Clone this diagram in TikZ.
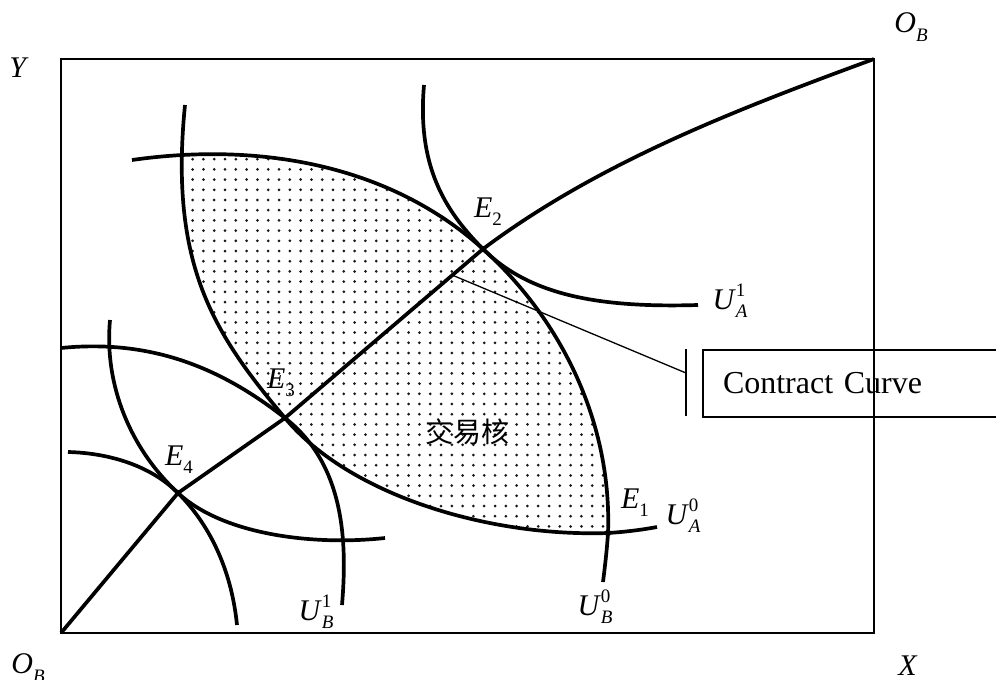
\documentclass[tikz,border=0pt]{standalone}
\usepackage{fontspec}
\setmainfont{Liberation Serif}
\newfontfamily\cjk{Noto Sans CJK SC}
\usetikzlibrary{positioning}

\newcommand{\smallsz}{\fontsize{19}{19}\selectfont}
\newcommand{\elab}[1]{\textit{E}\raisebox{-0.27em}{\smallsz #1}}
\newcommand{\olab}[1]{\textit{O}\raisebox{-0.3em}{\smallsz\itshape #1}}
\newcommand{\ulab}[2]{\textit{U}\rlap{\raisebox{0.43em}{\smallsz #1}}\raisebox{-0.27em}{\smallsz\itshape #2}}

\begin{document}
\begin{tikzpicture}[x=1pt,y=-1pt,
  ind/.style={line width=3.7pt, line join=round},
  frame/.style={line width=1.6pt},
  lab/.style={font=\fontsize{30}{36}\selectfont, inner sep=0pt},
  dotc/.style={fill=black!90}]
\useasboundingbox (0,0) rectangle (996,680);

% Edgeworth box
\coordinate (OA) at (61,633);
\coordinate (OB) at (874,59);
\draw[frame] (OA) rectangle (OB);

% equilibrium points
\coordinate (E1) at (608,533);
\coordinate (E2) at (483,249);
\coordinate (E3) at (285,418);
\coordinate (E4) at (178,493);

% core (dotted lens)
\begin{scope}
\clip (132,160) .. controls (258,142) and (389,164) .. (E2)
  .. controls (563,321) and (612,425) .. (E1)
  .. controls (607,549) and (605,566) .. (603,582)
  -- (603,700) -- (0,700) -- (0,160) -- cycle;
\clip (185,105) .. controls (169,265) and (214,334) .. (E3)
  .. controls (349,495) and (488,537) .. (E1)
  .. controls (624,532) and (641,530) .. (657,527)
  -- (900,527) -- (900,0) -- (185,0) -- cycle;
\foreach \i in {0,...,41}{
  \foreach \j in {0,...,38}{
    \fill[dotc] ({171+\i*10.8},{149+\j*10.2}) circle (1.5);
  }
}
\end{scope}

% indifference curves
\draw[ind] (132,160) .. controls (258,142) and (389,164) .. (E2)
  .. controls (563,321) and (612,425) .. (E1)
  .. controls (607,549) and (605,566) .. (603,582);
\draw[ind] (185,105) .. controls (169,265) and (214,334) .. (E3)
  .. controls (349,495) and (488,537) .. (E1)
  .. controls (624,532) and (641,530) .. (657,527);
\draw[ind] (424,85) .. controls (417,165) and (444,210) .. (E2)
  .. controls (529,295) and (598,308) .. (698,305);
\draw[ind] (61,348) .. controls (160,338) and (230,375) .. (E3)
  .. controls (344,464) and (347.5,540) .. (342,605);
\draw[ind] (110,320) .. controls (104,385) and (130.5,449) .. (E4)
  .. controls (222,534) and (311,546) .. (385,538);
\draw[ind] (68,452) .. controls (108,453) and (150,465) .. (E4)
  .. controls (213,528) and (232,575) .. (237,625);

% contract curve
\draw[ind] (OA) -- (E4) -- (E3) -- (E2) .. controls (599,162) and (738,109) .. (OB);

\foreach \p in {E1,E2,E3,E4}{
  \fill (\p) circle (3.2);
}

% labels
\node[lab] (lY) at (19,68) {\textit{Y}};
\node[lab] (lX) at (908,666) {\textit{X}};
\node[lab] (lOB) at (911,27) {\olab{B}};
\node[lab] (lOA) at (28,668) {\olab{B}};
\node[lab] (lE1) at (635,503) {\elab{1}};
\node[lab] (lE2) at (488,212) {\elab{2}};
\node[lab] (lE3) at (281,383) {\elab{3}};
\node[lab] (lE4) at (179,460) {\elab{4}};
\node[lab] (lUA1) at (730,301) {\ulab{1}{A}};
\node[lab] (lUA0) at (683,516) {\ulab{0}{A}};
\node[lab] (lUB0) at (595,607) {\ulab{0}{B}};
\node[lab] (lUB1) at (316,612) {\ulab{1}{B}};
\node[font=\cjk\fontsize{28}{32}\selectfont, inner sep=0pt] (core) at (467,432) {交易核};

% contract curve callout
\coordinate (cc) at (452,275);
\coordinate (tick) at (686,373);
\coordinate (bartop) at (686,349);
\coordinate (barbot) at (686,416);
\draw[line width=1.3pt] (cc) -- (tick);
\draw[line width=1.8pt] (bartop) -- (barbot);
\node[draw, line width=2pt, anchor=north west, minimum height=67pt, text width=270pt,
  inner xsep=20pt, font=\fontsize{32}{38}\selectfont] (ccbox) at (702,349) {Contract Curve};

\end{tikzpicture}
\end{document}
